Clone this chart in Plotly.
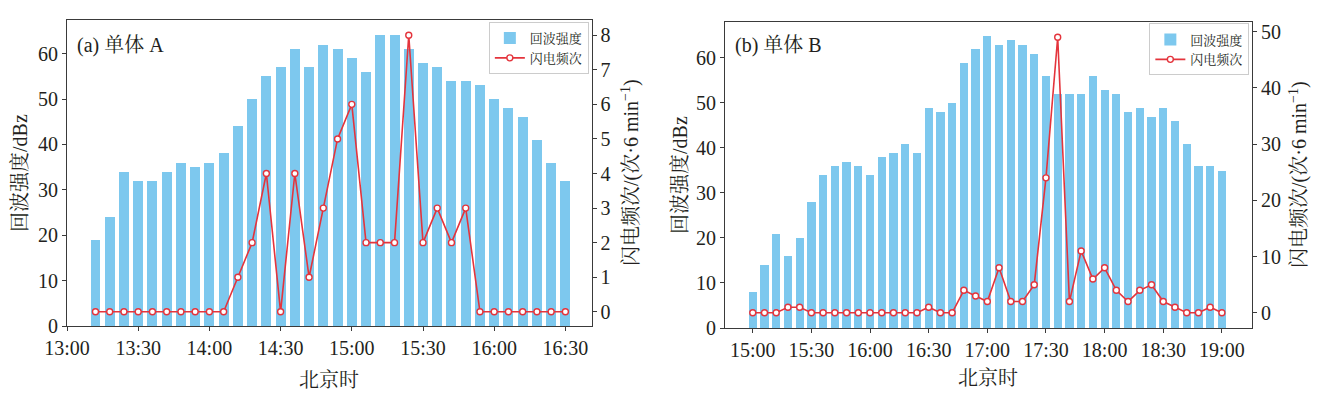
import plotly.graph_objects as go

# ---- data ----
times_a = ["13:12","13:18","13:24","13:30","13:36","13:42","13:48","13:54","14:00","14:06",
           "14:12","14:18","14:24","14:30","14:36","14:42","14:48","14:54","15:00","15:06",
           "15:12","15:18","15:24","15:30","15:36","15:42","15:48","15:54","16:00","16:06",
           "16:12","16:18","16:24","16:30"]
echo_a = [19, 24, 34, 32, 32, 34, 36, 35, 36, 38,
          44, 50, 55, 57, 61, 57, 62, 61, 59, 56,
          64, 64, 61, 58, 57, 54, 54, 53, 50, 48,
          46, 41, 36, 32]
flash_a = [0, 0, 0, 0, 0, 0, 0, 0, 0, 0,
           1, 2, 4, 0, 4, 1, 3, 5, 6, 2,
           2, 2, 8, 2, 3, 2, 3, 0, 0, 0,
           0, 0, 0, 0]

times_b = ["15:00","15:06","15:12","15:18","15:24","15:30","15:36","15:42","15:48","15:54",
           "16:00","16:06","16:12","16:18","16:24","16:30","16:36","16:42","16:48","16:54",
           "17:00","17:06","17:12","17:18","17:24","17:30","17:36","17:42","17:48","17:54",
           "18:00","18:06","18:12","18:18","18:24","18:30","18:36","18:42","18:48","18:54",
           "19:00"]
echo_b = [8, 14, 21, 16, 20, 28, 34, 36, 37, 36,
          34, 38, 39, 41, 39, 49, 48, 50, 59, 62,
          65, 63, 64, 63, 61, 56, 52, 52, 52, 56,
          53, 52, 48, 49, 47, 49, 46, 41, 36, 36,
          35]
flash_b = [0, 0, 0, 1, 1, 0, 0, 0, 0, 0,
           0, 0, 0, 0, 0, 1, 0, 0, 4, 3,
           2, 8, 2, 2, 5, 24, 49, 2, 11, 6,
           8, 4, 2, 4, 5, 2, 1, 0, 0, 1,
           0]

ticks_a = ["13:00","13:30","14:00","14:30","15:00","15:30","16:00","16:30"]
ticks_b = ["15:00","15:30","16:00","16:30","17:00","17:30","18:00","18:30","19:00"]

DAY = "2000-01-01 "
def d(t):
    return DAY + t

BAR_C = "#7DC8EE"
LINE_C = "#E4343C"
SERIF = "Liberation Serif, 'Noto Serif CJK SC', 'Noto Sans CJK SC', serif"
AX_C = "#3a3a3a"
TXT_C = "#231f20"

fig = go.Figure()

# panel A
fig.add_trace(go.Bar(x=[d(t) for t in times_a], y=echo_a, name="回波强度",
                     marker=dict(color=BAR_C, line=dict(width=0)),
                     width=4.2 * 60000, xaxis="x", yaxis="y", legend="legend"))
fig.add_trace(go.Scatter(x=[d(t) for t in times_a], y=flash_a, name="闪电频次",
                         mode="lines+markers",
                         line=dict(color=LINE_C, width=1.6),
                         marker=dict(size=6, color="white", line=dict(color=LINE_C, width=1.4)),
                         xaxis="x", yaxis="y2", legend="legend"))
# panel B
fig.add_trace(go.Bar(x=[d(t) for t in times_b], y=echo_b, name="回波强度",
                     marker=dict(color=BAR_C, line=dict(width=0)),
                     width=4.2 * 60000, xaxis="x2", yaxis="y3", legend="legend2"))
fig.add_trace(go.Scatter(x=[d(t) for t in times_b], y=flash_b, name="闪电频次",
                         mode="lines+markers",
                         line=dict(color=LINE_C, width=1.6),
                         marker=dict(size=6, color="white", line=dict(color=LINE_C, width=1.4)),
                         xaxis="x2", yaxis="y4", legend="legend2"))

W, H = 1324, 397
ya_dom = [1 - 326 / H, 1 - 20 / H]
yb_dom = [1 - 328 / H, 1 - 21.5 / H]
xa_dom = [67 / W, 591.5 / W]
xb_dom = [725 / W, 1252 / W]

tickfont = dict(family=SERIF, size=20, color=TXT_C)
common_axis = dict(showgrid=False, zeroline=False, showline=True, linecolor=AX_C, linewidth=1,
                   ticks="outside", ticklen=4, tickwidth=1, tickcolor=AX_C, tickfont=tickfont,
                   automargin=False)

fig.update_layout(
    width=W, height=H,
    margin=dict(l=0, r=0, t=0, b=0, autoexpand=False),
    paper_bgcolor="white", plot_bgcolor="white",
    bargap=0,
    xaxis=dict(domain=xa_dom, anchor="y", type="date",
               range=[d("13:00"), d("16:41")],
               tickvals=[d(t) for t in ticks_a], ticktext=ticks_a,
               mirror=True, **common_axis),
    yaxis=dict(domain=ya_dom, anchor="x", range=[0, 67.4], dtick=10, **common_axis),
    yaxis2=dict(overlaying="y", side="right", anchor="x", range=[-0.41, 8.44], dtick=1,
                **common_axis),
    xaxis2=dict(domain=xb_dom, anchor="y3", type="date",
                range=["2000-01-01 14:45:48", "2000-01-01 19:15:24"],
                tickvals=[d(t) for t in ticks_b], ticktext=ticks_b,
                mirror=True, **common_axis),
    yaxis3=dict(domain=yb_dom, anchor="x2", range=[0, 68], dtick=10, **common_axis),
    yaxis4=dict(overlaying="y3", side="right", anchor="x2", range=[-2.7, 51.8], dtick=10,
                **common_axis),
    legend=dict(x=xa_dom[1] - 0.002, y=ya_dom[1] - 0.005, xanchor="right", yanchor="top",
                bgcolor="white", bordercolor="#cccccc", borderwidth=1,
                font=dict(family=SERIF, size=13, color=TXT_C),
                tracegroupgap=0, itemwidth=30),
    legend2=dict(x=xb_dom[1] - 0.002, y=yb_dom[1] - 0.005, xanchor="right", yanchor="top",
                 bgcolor="white", bordercolor="#cccccc", borderwidth=1,
                 font=dict(family=SERIF, size=13, color=TXT_C),
                 tracegroupgap=0, itemwidth=30),
    showlegend=True,
)

ann_font = dict(family=SERIF, size=20, color=TXT_C)
anns = [
    dict(x=75 / W, y=1 - 45 / H, text="(a) 单体 A", xanchor="left", yanchor="middle"),
    dict(x=733 / W, y=1 - 45 / H, text="(b) 单体 B", xanchor="left", yanchor="middle"),
    dict(x=329 / W, y=1 - 380 / H, text="北京时", xanchor="center", yanchor="middle"),
    dict(x=988 / W, y=1 - 378 / H, text="北京时", xanchor="center", yanchor="middle"),
    dict(x=20 / W, y=1 - 173 / H, text="回波强度/dBz", textangle=-90, xanchor="center", yanchor="middle"),
    dict(x=680 / W, y=1 - 175 / H, text="回波强度/dBz", textangle=-90, xanchor="center", yanchor="middle"),
    dict(x=630 / W, y=1 - 173 / H, text="闪电频次/(次·6 min<sup>−1</sup>)", textangle=-90,
         xanchor="center", yanchor="middle"),
    dict(x=1298 / W, y=1 - 175 / H, text="闪电频次/(次·6 min<sup>−1</sup>)", textangle=-90,
         xanchor="center", yanchor="middle"),
]
for a in anns:
    a.update(xref="paper", yref="paper", showarrow=False, font=ann_font)
fig.update_layout(annotations=anns)

fig.write_html("out.html", config={"displayModeBar": False},
               post_script="document.body.style.margin='0';document.body.style.padding='0';")
